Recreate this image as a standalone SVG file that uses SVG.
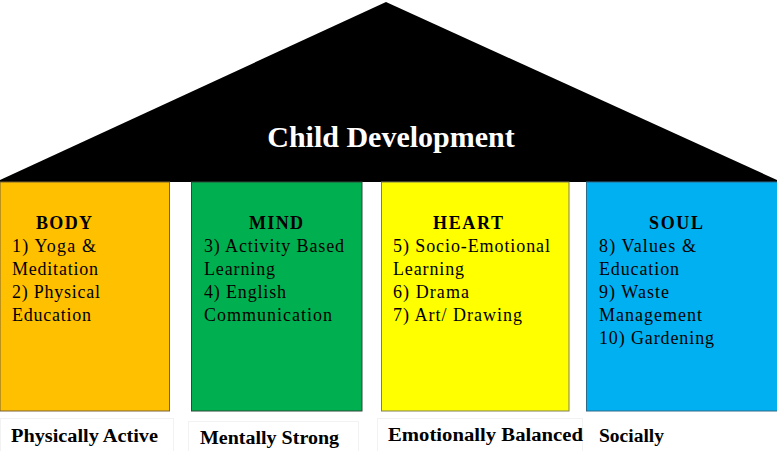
<svg xmlns="http://www.w3.org/2000/svg" width="777" height="451" viewBox="0 0 777 451">
<style>
.t{font-family:"Liberation Serif","Times New Roman",serif;font-size:18px;fill:#000}
.h{font-weight:bold;text-anchor:middle}
.lb{font-family:"Liberation Serif","Times New Roman",serif;font-size:18px;font-weight:bold;fill:#000}
.lbox{fill:none;stroke:#f2f2f2;stroke-width:1}
</style>
<rect width="777" height="451" fill="#fff"/>
<g id="roof">
<polygon points="386,2 777,180 777,182 0,182 0,180" fill="#000"/>
<text x="391" y="147" font-family="Liberation Serif,'Times New Roman',serif" font-size="30" font-weight="bold" fill="#fff" text-anchor="middle">Child Development</text>
</g>
<g id="body">
<rect x="0" y="182" width="169.5" height="229" fill="#FFC000" stroke="#7a6235" stroke-width="1"/>
<text class="t h" x="64" y="229" textLength="56" lengthAdjust="spacing">BODY</text>
<text class="t" x="12" y="252" textLength="84" lengthAdjust="spacing">1) Yoga &amp;</text>
<text class="t" x="12" y="275" textLength="86" lengthAdjust="spacing">Meditation</text>
<text class="t" x="12" y="298" textLength="88" lengthAdjust="spacing">2) Physical</text>
<text class="t" x="12" y="321" textLength="79" lengthAdjust="spacing">Education</text>
</g>
<g id="mind">
<rect x="191.5" y="182" width="170.5" height="229" fill="#00B050" stroke="#2d4a36" stroke-width="1"/>
<text class="t h" x="276" y="229" textLength="54" lengthAdjust="spacing">MIND</text>
<text class="t" x="204" y="252" textLength="140" lengthAdjust="spacing">3) Activity Based</text>
<text class="t" x="204" y="275" textLength="71" lengthAdjust="spacing">Learning</text>
<text class="t" x="204" y="298" textLength="82" lengthAdjust="spacing">4) English</text>
<text class="t" x="204" y="321" textLength="128" lengthAdjust="spacing">Communication</text>
</g>
<g id="heart">
<rect x="381.5" y="182" width="187.5" height="229" fill="#FFFF00" stroke="#7f7f55" stroke-width="1"/>
<text class="t h" x="468" y="229" textLength="70" lengthAdjust="spacing">HEART</text>
<text class="t" x="393" y="252" textLength="157" lengthAdjust="spacing">5) Socio-Emotional</text>
<text class="t" x="393" y="275" textLength="71" lengthAdjust="spacing">Learning</text>
<text class="t" x="393" y="298" textLength="76" lengthAdjust="spacing">6) Drama</text>
<text class="t" x="393" y="321" textLength="129" lengthAdjust="spacing">7) Art/ Drawing</text>
</g>
<g id="soul">
<rect x="586.5" y="182" width="191" height="229" fill="#00B0F0" stroke="#2f6a8a" stroke-width="1"/>
<text class="t h" x="676" y="229" textLength="54" lengthAdjust="spacing">SOUL</text>
<text class="t" x="599" y="252" textLength="97" lengthAdjust="spacing">8) Values &amp;</text>
<text class="t" x="599" y="275" textLength="80" lengthAdjust="spacing">Education</text>
<text class="t" x="599" y="298" textLength="70" lengthAdjust="spacing">9) Waste</text>
<text class="t" x="599" y="321" textLength="103" lengthAdjust="spacing">Management</text>
<text class="t" x="599" y="344" textLength="115" lengthAdjust="spacing">10) Gardening</text>
</g>
<g id="labels">
<rect class="lbox" x="0.5" y="418.5" width="173" height="40"/>
<rect class="lbox" x="188.5" y="421.5" width="170" height="40"/>
<rect class="lbox" x="377.5" y="418.5" width="205" height="40"/>
<text class="lb" x="11" y="442" textLength="147" lengthAdjust="spacingAndGlyphs">Physically Active</text>
<text class="lb" x="200" y="444" textLength="139" lengthAdjust="spacingAndGlyphs">Mentally Strong</text>
<text class="lb" x="388" y="441" textLength="195" lengthAdjust="spacingAndGlyphs">Emotionally Balanced</text>
<text class="lb" x="599" y="442" textLength="65" lengthAdjust="spacingAndGlyphs">Socially</text>
</g>
<g id="connectors"></g>
</svg>
